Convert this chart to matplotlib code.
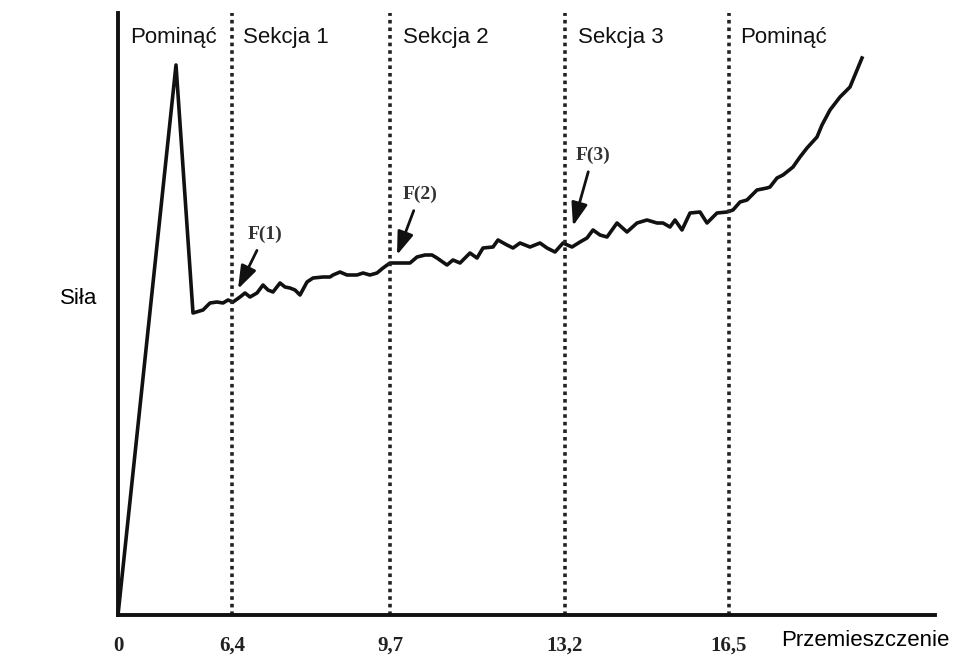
import numpy as np
import matplotlib.pyplot as plt

# wykres sily od przemieszczenia (jednostki umowne, os x nieliniowa)
sila_x = [0, 58, 75, 85, 92, 99, 105, 110, 115, 122, 127, 132, 139, 145, 150, 155,
          162, 167, 172, 177, 182, 189, 195, 205, 212, 215, 222, 229, 239, 245, 252,
          259, 265, 272, 282, 292, 299, 307, 314, 319, 329, 335, 342, 352, 359, 365,
          375, 380, 389, 395, 402, 412, 422, 429, 437, 445, 454, 462, 469, 475, 482,
          489, 499, 509, 519, 529, 539, 545, 552, 557, 564, 572, 582, 589, 599, 609,
          615, 622, 629, 639, 649, 652, 659, 665, 675, 682, 689, 699, 704, 712, 722,
          732, 744]
sila_y = [0, 550, 302, 305, 312, 313, 312, 315, 313, 318, 322, 318, 322, 330, 325,
          323, 332, 328, 327, 325, 320, 333, 337, 338, 338, 340, 343, 340, 340, 342,
          340, 342, 347, 352, 352, 352, 358, 360, 360, 357, 350, 355, 352, 362, 357,
          367, 368, 375, 370, 367, 372, 368, 372, 367, 363, 372, 368, 373, 377, 385,
          380, 378, 392, 383, 392, 395, 392, 392, 388, 395, 385, 402, 403, 392, 402,
          403, 405, 413, 415, 425, 427, 428, 437, 440, 448, 458, 467, 478, 490, 505,
          518, 528, 557]

granice = [114, 272, 447, 611]
etykiety_x = ['0', '6,4', '9,7', '13,2', '16,5']
sekcje = ['Pominąć', 'Sekcja 1', 'Sekcja 2', 'Sekcja 3', 'Pominąć']
sekcje_x = [12, 125, 285, 460, 622]

punkty_f = ['F(1)', 'F(2)', 'F(3)']
f_tekst = [(147, 381), (302, 421), (475, 460)]
f_grot = [(120, 326), (279, 360), (455, 389)]

fig = plt.figure(figsize=(9.54, 6.6), dpi=100)
ax = fig.add_axes([118/954, 45/660, 817/954, 602/660])
ax.set_xlim(0, 817)
ax.set_ylim(0, 602)

ax.plot(sila_x, sila_y, color='#111111', lw=2.6, solid_joinstyle='round',
        clip_on=False)

for g in granice:
    ax.plot([g, g], [0, 602], color='#222222', lw=2.6, ls=(0, (1, 1.1)),
            dash_capstyle='butt')

for s, sx in zip(sekcje, sekcje_x):
    ax.text(sx, 578, s, fontsize=16, family='Liberation Sans', va='center',
            ha='left', color='#111111')

for t, p, q in zip(punkty_f, f_tekst, f_grot):
    ax.annotate(t, xy=q, xytext=p, ha='center', va='center',
                fontsize=14, fontweight='bold', family='Liberation Serif',
                color='#333333',
                arrowprops=dict(arrowstyle='-|>,head_length=1.0,head_width=0.35',
                                color='#111111', lw=2, shrinkA=4, shrinkB=0))

for side in ['top', 'right']:
    ax.spines[side].set_visible(False)
ax.spines['left'].set_linewidth(2.8)
ax.spines['bottom'].set_linewidth(2.8)
ax.spines['left'].set_color('#111111')
ax.spines['bottom'].set_color('#111111')

ax.set_xticks([0] + granice)
ax.set_xticklabels(etykiety_x, fontsize=15, fontweight='bold',
                   family='Liberation Serif')
ax.tick_params(axis='x', length=0, pad=15, colors='#222222')
ax.set_yticks([])

fig.text(60/954, 1 - 298/660, 'Siła', fontsize=16, family='Liberation Sans',
         ha='left', va='center')
fig.text(950/954, 1 - 640/660, 'Przemieszczenie', fontsize=16,
         family='Liberation Sans', ha='right', va='center')

fig.savefig('out.png', dpi=100)
